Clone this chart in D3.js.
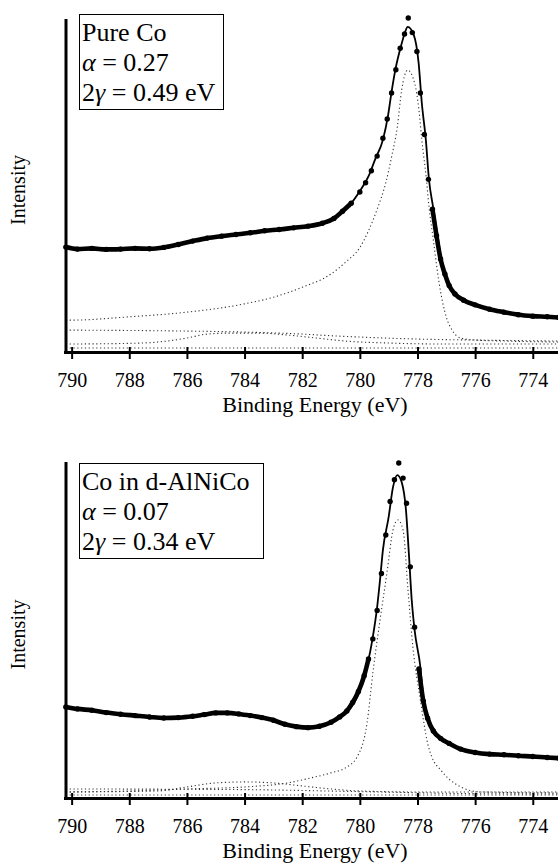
<!DOCTYPE html>
<html>
<head>
<meta charset="utf-8">
<script src="https://cdn.jsdelivr.net/npm/d3@7"></script>
<style>
  body { margin: 0; background: #fff; }
</style>
</head>
<body>
<svg width="558" height="864"></svg>
<script>
// ---- data: [binding energy (eV), intensity (a.u., 0-100)] ----
const xTicks = [790, 788, 786, 784, 782, 780, 778, 776, 774];

// Pure Co
const coData = [[790.2,31.6],[789.8,31.0],[789.3,31.2],[788.8,30.9],[788.3,31.0],[787.8,31.2],[787.3,31.1],
  [786.8,31.5],[786.3,32.4],[785.8,33.4],[785.3,34.3],[784.8,34.9],[784.3,35.4],[783.8,35.9],[783.3,36.5],
  [782.8,36.9],[782.3,37.4],[781.8,37.9],[781.3,38.8],[780.9,40.2],[780.6,42.4],[780.3,44.8],[780.0,48.2],
  [779.8,51.0],[779.6,54.6],[779.4,59.0],[779.2,64.4],[779.05,70.2],[778.9,78.0],[778.75,85.0],[778.6,91.5],
  [778.45,95.8],[778.32,100.6],[778.18,96.2],[778.02,90.5],[777.9,78.0],[777.76,65.5],[777.62,52.0],
  [777.48,43.0],[777.34,35.0],[777.2,28.0],[777.05,23.5],[776.9,20.0],[776.7,17.5],[776.4,15.6],[776.0,14.2],
  [775.5,12.9],[775.0,12.0],[774.5,11.2],[774.0,10.8],[773.5,10.6],[773.1,10.4]];
const coFit = [[790.2,31.3],[790.0,31.3],[788.3,31.0],[787.3,31.0],[786.9,31.4],[786.2,32.6],[785.55,33.9],
  [784.5,35.2],[783.1,36.7],[781.73,38.0],[781.0,39.5],[780.7,41.9],[780.33,44.5],[780.0,48.5],[779.65,53.9],
  [779.48,57.8],[779.2,63.9],[779.03,70.8],[778.89,78.9],[778.75,85.8],[778.58,91.9],[778.44,96.1],
  [778.34,97.9],[778.13,95.5],[777.96,87.0],[777.85,75.0],[777.71,63.9],[777.6,51.8],[777.46,43.7],
  [777.32,35.8],[777.15,26.8],[776.98,21.7],[776.77,18.1],[776.18,14.8],[775.49,12.7],[774.44,11.1],[773.13,10.5]];
const coMain = [[790.2,9.6],[790.0,9.6],[788.0,10.6],[786.0,12.0],[784.0,14.5],[783.0,16.5],[782.0,19.5],
  [781.0,23.5],[780.5,27.0],[780.0,31.5],[779.7,36.5],[779.4,43.0],[779.1,51.0],[778.9,58.7],[778.7,67.8],
  [778.55,78.9],[778.34,84.9],[778.1,81.0],[777.95,72.9],[777.85,63.9],[777.7,52.7],[777.6,43.7],
  [777.45,33.7],[777.25,20.8],[777.0,10.5],[776.8,6.6],[776.5,4.2],[776.0,3.6],[775.0,3.3],[773.1,3.0]];
const coBkg = [[790.2,6.6],[786,6.3],[784,6.0],[782,5.4],[781,4.9],[780,4.5],[778,3.9],[776,3.6],[773.1,3.3]];
const coSat = [[790.2,2.4],[788,2.6],[787,3.0],[786,4.2],[785.3,5.4],[784.5,5.7],[783.5,5.7],[782.5,5.1],
  [781.5,4.2],[780.5,3.3],[779,2.7],[777,2.4],[773.1,2.4]];
const coFlat = [[790.2,1.2],[773.1,1.2]];

// Co in d-AlNiCo
const alData = [[790.2,27.2],[789.8,26.6],[789.3,26.2],[788.8,25.5],[788.3,25.0],[787.8,24.6],[787.3,24.2],
  [786.8,23.9],[786.3,24.0],[785.8,24.4],[785.4,24.9],[785.0,25.4],[784.6,25.4],[784.2,25.1],[783.8,24.6],
  [783.4,24.0],[783.0,23.2],[782.6,22.0],[782.2,21.3],[781.8,21.0],[781.4,21.4],[781.0,22.6],[780.7,24.2],
  [780.45,26.0],[780.25,28.5],[780.05,31.8],[779.85,36.5],[779.7,41.5],[779.55,47.5],[779.4,56.0],
  [779.25,67.0],[779.1,78.5],[778.95,88.5],[778.8,95.0],[778.65,100.0],[778.5,95.5],[778.38,88.0],
  [778.25,69.0],[778.1,51.0],[777.95,38.5],[777.8,29.0],[777.65,23.8],[777.45,20.0],[777.2,17.8],
  [776.9,16.3],[776.5,14.6],[776.0,13.6],[775.5,13.1],[775.0,12.9],[774.5,12.6],[774.0,12.4],[773.5,12.1],[773.1,11.9]];
const alFit = [[790.2,26.9],[788.6,25.4],[786.9,23.9],[785.5,24.5],[784.8,25.4],[784.1,25.1],[783.1,23.3],
  [782.4,21.6],[781.7,21.2],[781.0,22.7],[780.5,25.7],[780.3,27.2],[780.0,32.2],[779.8,38.2],[779.65,43.3],
  [779.55,48.1],[779.4,57.0],[779.3,65.1],[779.2,74.0],[779.0,83.9],[778.85,92.8],[778.7,96.4],[778.55,94.3],
  [778.4,86.0],[778.3,73.1],[778.2,59.1],[778.1,50.1],[777.9,39.1],[777.8,30.1],[777.6,23.3],[777.35,19.4],
  [776.9,16.4],[776.2,13.7],[775.0,12.8],[773.4,12.2],[773.1,11.9]];
const alMain = [[790.2,1.8],[788,2.1],[786,2.7],[784,3.3],[782.5,4.5],[781.7,6.0],[781,7.5],[780.5,9.0],
  [780.1,12.2],[779.75,22.4],[779.55,37.3],[779.3,53.1],[779.06,67.2],[778.85,80.0],[778.68,83.0],[778.5,80.0],
  [778.33,62.1],[778.16,45.1],[777.9,29.3],[777.65,16.4],[777.5,12.2],[777.2,8.4],[776.5,3.3],[775.8,1.8],[773.1,1.5]];
const alSat = [[790.2,1.8],[787,2.1],[786,3.3],[785,4.5],[784,4.8],[783,4.5],[782,3.6],[781,2.7],[780,2.1],
  [778,1.8],[773.1,1.8]];
const alBkg = [[790.2,2.7],[784,2.5],[780,1.9],[776,1.3],[773.1,1.2]];
const alFlat = [[790.2,0.9],[773.1,0.9]];

const panels = [
  { top: 20, bottom: 352, data: coData, fit: coFit, parts: [coMain, coBkg, coSat, coFlat],
    box: { x: 79, y: 14, w: 144, h: 95 }, lines: [['Pure Co'], ['α', ' = 0.27'], ['2', 'γ', ' = 0.49 eV']] },
  { top: 463, bottom: 798, data: alData, fit: alFit, parts: [alMain, alSat, alBkg, alFlat],
    box: { x: 79, y: 463, w: 184, h: 95 }, lines: [['Co in d-AlNiCo'], ['α', ' = 0.07'], ['2', 'γ', ' = 0.34 eV']] }
];

const serif = '"Liberation Serif"';

const svg = d3.select('svg');
const width = +svg.attr('width');

// shared energy axis, reversed (higher binding energy on the left), runs off the right edge
const x = d3.scaleLinear().domain([790.23, 773]).range([65, 561.6]);

const drawPanel = p => {
  const y = d3.scaleLinear().domain([0, 100]).range([p.bottom, p.top]);
  const g = svg.append('g');
  const line = d3.line().x(d => x(d[0])).y(d => y(d[1])).curve(d3.curveMonotoneX);

  // fitted components, dotted
  g.selectAll('path.part').data(p.parts)
    .enter().append('path')
      .attr('class', 'part')
      .attr('d', line)
      .attr('fill', 'none')
      .attr('stroke', '#333')
      .attr('stroke-width', 1.1)
      .attr('stroke-dasharray', '1.2,2.6');

  // measured data: where the markers overlap they read as a thick band
  g.append('path')
    .attr('d', line.defined(d => d[1] < 45)(p.data))
    .attr('fill', 'none')
    .attr('stroke', '#000')
    .attr('stroke-width', 4.6)
    .attr('stroke-linejoin', 'round')
    .attr('stroke-linecap', 'round');
  line.defined(() => true);
  g.selectAll('circle').data(p.data)
    .enter().append('circle')
      .attr('cx', d => x(d[0]))
      .attr('cy', d => y(d[1]))
      .attr('r', 2.7)
      .attr('fill', '#000');

  // total fit
  g.append('path')
    .attr('d', line(p.fit))
    .attr('fill', 'none')
    .attr('stroke', '#000')
    .attr('stroke-width', 1.8);

  // axes
  const ax = g.append('g')
    .attr('transform', `translate(0,${p.bottom})`)
    .call(d3.axisBottom(x).tickValues(xTicks).tickSizeInner(7).tickSizeOuter(0).tickPadding(14).tickFormat(d3.format('d')));
  ax.select('.domain').attr('stroke-width', 3).attr('stroke-linecap', 'square');
  ax.selectAll('.tick line').attr('y1', -5).attr('stroke-width', 2);
  ax.selectAll('.tick text')
    .style('font-family', serif)
    .style('font-size', '20px')
    .attr('fill', '#000');

  const ay = g.append('g')
    .attr('transform', 'translate(65.5,0)')
    .call(d3.axisLeft(y).tickValues([]).tickSizeOuter(0));
  ay.select('.domain').attr('stroke-width', 3).attr('stroke-linecap', 'square');

  g.append('text')
    .attr('x', 315)
    .attr('y', p.bottom + 60)
    .attr('text-anchor', 'middle')
    .style('font-family', serif)
    .style('font-size', '22px')
    .text('Binding Energy (eV)');

  g.append('text')
    .attr('transform', `translate(19,${(p.top + p.bottom) / 2 + 4}) rotate(-90)`)
    .attr('text-anchor', 'middle')
    .attr('dy', '0.32em')
    .style('font-family', serif)
    .style('font-size', '20px')
    .text('Intensity');

  // legend box
  g.append('rect')
    .attr('x', p.box.x + 0.5).attr('y', p.box.y + 0.5)
    .attr('width', p.box.w).attr('height', p.box.h)
    .attr('fill', '#fff')
    .attr('stroke', '#000')
    .attr('stroke-width', 1);
  p.lines.forEach((parts, i) => {
    const t = g.append('text')
      .attr('x', p.box.x + 3)
      .attr('y', p.box.y + 27 + i * 30)
      .style('font-family', serif)
      .style('font-size', '26px');
    parts.forEach(s => {
      t.append('tspan')
        .style('font-style', (s === 'α' || s === 'γ') ? 'italic' : 'normal')
        .text(s);
    });
  });
};

panels.forEach(drawPanel);
</script>
</body>
</html>
